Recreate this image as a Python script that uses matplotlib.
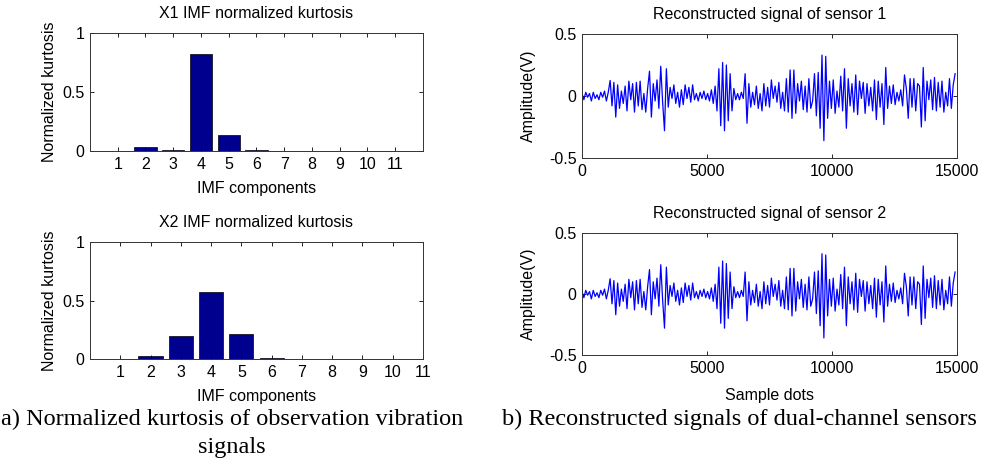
import numpy as np
import matplotlib.pyplot as plt

plt.rcParams['font.family'] = ['Liberation Sans', 'DejaVu Sans']

# --- данные: нормированный эксцесс IMF ---
imf_idx = [1, 2, 3, 4, 5, 6, 7, 8, 9, 10, 11]
kurt_x1 = [0.003, 0.035, 0.008, 0.82, 0.135, 0.008, 0.002, 0.002, 0.002, 0.002, 0.002]
kurt_x2 = [0.002, 0.025, 0.20, 0.57, 0.21, 0.008, 0.002, 0.002, 0.002, 0.002, 0.002]

# --- восстановленный сигнал (шаг 75 отсчётов) ---
sample_step = 75
signal_1 = [
    0.02, -0.03, 0.03, -0.01, 0.02, -0.04, 0.03, -0.02, 0.01, -0.03,
    0.03, -0.01, 0.04, -0.04, 0.03, 0.125, -0.08, 0.11, -0.17, 0.09,
    -0.10, 0.04, -0.06, 0.08, -0.12, 0.12, -0.03, 0.10, -0.13, 0.11,
    -0.08, 0.12, -0.11, 0.02, -0.13, 0.06, 0.20, -0.17, 0.10, -0.04,
    0.13, -0.10, 0.24, -0.05, -0.28, 0.22, -0.09, 0.07, -0.02, 0.09,
    -0.06, 0.03, -0.09, 0.05, -0.07, 0.09, -0.02, 0.07, -0.05, 0.09,
    -0.03, 0.02, -0.04, 0.03, -0.02, 0.04, -0.03, 0.02, -0.04, 0.05,
    -0.06, 0.08, -0.12, 0.22, -0.24, 0.27, -0.28, 0.25, -0.20, 0.18,
    -0.12, 0.06, -0.03, 0.02, -0.03, 0.03, -0.02, 0.18, -0.22, 0.10,
    -0.09, 0.03, -0.07, 0.08, -0.10, 0.02, -0.12, 0.10, -0.08, 0.07,
    -0.09, 0.13, -0.02, 0.08, -0.05, 0.11, -0.10, 0.03, -0.12, 0.14,
    -0.13, 0.21, -0.18, 0.21, -0.14, 0.10, -0.04, 0.12, -0.11, 0.08,
    -0.13, 0.14, -0.10, -0.04, 0.18, -0.16, 0.19, -0.26, 0.33, -0.36,
    0.32, -0.18, 0.12, -0.10, 0.13, -0.14, 0.04, -0.09, 0.16, -0.12,
    0.22, -0.26, 0.14, -0.08, 0.10, -0.13, 0.17, -0.15, 0.12, -0.02,
    0.11, -0.14, 0.10, -0.08, 0.07, -0.12, 0.13, -0.19, 0.12, -0.09,
    0.10, -0.23, 0.23, -0.10, 0.08, -0.06, 0.09, -0.07, 0.03, -0.04,
    0.05, -0.08, 0.17, 0.06, -0.18, 0.14, -0.09, 0.14, -0.12, 0.10,
    0.08, -0.25, 0.23, -0.20, 0.12, -0.03, 0.13, -0.11, 0.15, -0.12,
    0.11, -0.09, 0.12, -0.13, 0.03, -0.08, 0.14, -0.10, 0.09, 0.18,
]
signal_2 = list(signal_1)  # на рисунке оба канала практически совпадают
samples = np.arange(len(signal_1)) * sample_step

bar_color = '#00008F'
line_color = '#0000FF'
fs = 11.5


def style_ax(ax):
    ax.tick_params(direction='in', top=True, right=True, labelsize=fs,
                   length=3, width=0.6, pad=4)
    for s in ax.spines.values():
        s.set_linewidth(0.7)
        s.set_color('#333333')


fig = plt.figure(figsize=(9.92, 4.62), dpi=100)

# --- левая колонка: столбики ---
ax1 = fig.add_axes([0.0907, 0.6732, 0.3357, 0.2554])
ax2 = fig.add_axes([0.0907, 0.2229, 0.3357, 0.2533])
for ax, vals, title, xmax in [(ax1, kurt_x1, 'X1 IMF normalized kurtosis', 12),
                              (ax2, kurt_x2, 'X2 IMF normalized kurtosis', 11)]:
    ax.bar(imf_idx, vals, width=0.8, color=bar_color, edgecolor='black', linewidth=0.5)
    ax.set_xlim(0, xmax)
    ax.set_ylim(0, 1)
    ax.set_xticks(imf_idx)
    ax.set_yticks([0, 0.5, 1])
    ax.set_yticklabels(['0', '0.5', '1'])
    ax.set_title(title, fontsize=fs, pad=11)
    ax.set_xlabel('IMF components', fontsize=fs, labelpad=7)
    ax.set_ylabel('Normalized kurtosis', fontsize=fs, labelpad=4)
    style_ax(ax)

# --- правая колонка: сигналы ---
ax3 = fig.add_axes([0.5867, 0.658, 0.378, 0.2684])
ax4 = fig.add_axes([0.5867, 0.2316, 0.378, 0.2641])
for ax, sig, title in [(ax3, signal_1, 'Reconstructed signal of sensor 1'),
                       (ax4, signal_2, 'Reconstructed signal of sensor 2')]:
    ax.plot(samples, sig, color=line_color, linewidth=0.9)
    ax.set_xlim(0, 15000)
    ax.set_ylim(-0.5, 0.5)
    ax.set_xticks([0, 5000, 10000, 15000])
    ax.set_yticks([-0.5, 0, 0.5])
    ax.set_yticklabels(['-0.5', '0', '0.5'])
    ax.set_title(title, fontsize=fs, pad=11)
    ax.set_ylabel('Amplitude(V)', fontsize=fs, labelpad=9)
    style_ax(ax)
ax4.set_xlabel('Sample dots', fontsize=fs, labelpad=9)

# --- подписи под рисунками ---
cap = dict(ha='center', va='center', fontsize=17.5, family=['Liberation Serif', 'DejaVu Serif'])
fig.text(0.234, 0.093, 'a) Normalized kurtosis of observation vibration', **cap)
fig.text(0.234, 0.032, 'signals', **cap)
fig.text(0.745, 0.093, 'b) Reconstructed signals of dual-channel sensors', **cap)

fig.savefig('out.png', dpi=100)
